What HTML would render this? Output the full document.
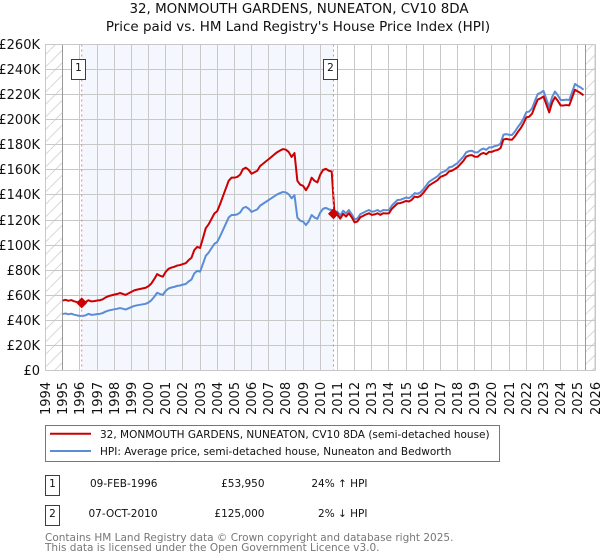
<!DOCTYPE html>
<html lang="en">
<head>
<meta charset="utf-8">
<title>32, Monmouth Gardens price chart</title>
<style>
html,body{margin:0;padding:0;background:#fff;width:600px;height:560px;overflow:hidden}
svg{display:block;font-family:"DejaVu Sans","Liberation Sans",sans-serif}
</style>
</head>
<body>
<svg id="chart" width="600" height="560" viewBox="0 0 600 560" xmlns="http://www.w3.org/2000/svg">
  <defs>
    <pattern id="hatch" patternUnits="userSpaceOnUse" width="12.5" height="12.5">
      <path d="M-1 13.5L13.5 -1" stroke="#d8d8d8" stroke-width="1" fill="none"/>
    </pattern>
  </defs>
  <rect x="0" y="0" width="600" height="560" fill="#fff"/>
  <text x="299" y="13" text-anchor="middle" font-size="13.45" fill="#111">32, MONMOUTH GARDENS, NUNEATON, CV10 8DA</text>
  <text x="298" y="31" text-anchor="middle" font-size="13.45" fill="#111">Price paid vs. HM Land Registry's House Price Index (HPI)</text>
  <g id="plot"></g>

  <g>
    <rect x="45.5" y="425.5" width="454" height="36" fill="#fff" stroke="#777" stroke-width="1"/>
    <line x1="50" y1="433.8" x2="91" y2="433.8" stroke="#cc0000" stroke-width="2"/>
    <text x="100" y="438" font-size="10.5" fill="#111">32, MONMOUTH GARDENS, NUNEATON, CV10 8DA (semi-detached house)</text>
    <line x1="50" y1="451" x2="91" y2="451" stroke="#5b8dd6" stroke-width="2"/>
    <text x="100" y="455" font-size="10.5" fill="#111">HPI: Average price, semi-detached house, Nuneaton and Bedworth</text>
  </g>

  <g font-size="10.5" fill="#111">
    <rect x="45.5" y="475.5" width="14" height="20" fill="#fff" stroke="#cc0000" stroke-width="1"/>
    <text x="52.5" y="487" text-anchor="middle">1</text>
    <text x="157.5" y="487" text-anchor="end">09-FEB-1996</text>
    <text x="264.5" y="487" text-anchor="end">£53,950</text>
    <text x="367.5" y="487" text-anchor="end">24% ↑ HPI</text>
    <rect x="45.5" y="505.5" width="14" height="20" fill="#fff" stroke="#cc0000" stroke-width="1"/>
    <text x="52.5" y="517" text-anchor="middle">2</text>
    <text x="157.5" y="517" text-anchor="end">07-OCT-2010</text>
    <text x="264.5" y="517" text-anchor="end">£125,000</text>
    <text x="367.5" y="517" text-anchor="end">2% ↓ HPI</text>
  </g>

  <text x="45" y="541" font-size="10.5" fill="#777">Contains HM Land Registry data © Crown copyright and database right 2025.</text>
  <text x="45" y="551" font-size="10.5" fill="#777">This data is licensed under the Open Government Licence v3.0.</text>
</svg>
<script>
// Values in thousands of pounds, one reading every two months from 1995.0
const seriesStartYear = 1995;
const samplesPerYear = 6;
const hpiValues = [
  45,45.5,44.8,45.3,44.5,44,
  43.6,43.5,44,45.2,44.4,44.6,
  45,45.2,45.8,47,47.8,48.3,
  48.8,49.2,49.8,49.3,48.6,49.6,
  50.6,51.5,52,52.4,52.8,53.2,
  54.3,56,58.8,62,61,60.3,
  63.5,65.4,66.2,66.7,67.5,67.8,
  68.5,69,71,72.5,77.5,79.5,
  78.8,85,91.5,94,97.5,101,
  102.5,107,112,117,122,124,
  124,124.5,126,129.5,130.5,129,
  126.5,127.5,128.5,131.5,133,134.5,
  136,137.5,139,140.5,141.5,142.4,
  142,140.5,137.3,139.8,122,119.5,
  118.8,116,119,124,122,121,
  126,129,129.7,128.5,128,127,
  126.6,123.6,127.4,125.3,128,124.7,
  120.5,121.3,124.7,125.8,127,128,
  126.6,127,128,126.6,128,127.8,
  128,131.5,133.8,136,136.2,137,
  138,137.5,139,141.5,141,142,
  144.5,147.5,150.5,152,153.5,155,
  157.5,158.5,159.5,162,162.5,164,
  165.5,168,170.5,174,175,175.3,
  174,174,176,177,176,178,
  178,179,179.5,181,188,188.5,
  188,187.8,190.5,194,197,201,
  206,206.5,209,215,220.5,221.5,
  223,216.5,210,218,222.5,219.5,
  215.7,215.7,216,215.7,222,228.5,
  227,225.7,224
];
const priceValues = [
  55.8,56.4,55.6,56.2,55.2,54.6,
  54.1,53.9,54.6,56,55.1,55.3,
  55.8,56,56.8,58.3,59.3,59.9,
  60.5,61,61.8,61.1,60.3,61.5,
  62.7,63.9,64.5,65,65.5,66,
  67.3,69.4,72.9,76.9,75.6,74.8,
  78.7,81.1,82.1,82.7,83.7,84.1,
  84.9,85.6,88,89.9,96.1,98.6,
  97.7,105.4,113.5,116.6,120.9,125.2,
  127.1,132.7,138.9,145.1,151.3,153.8,
  153.8,154.4,156.2,160.6,161.8,160,
  156.9,158.1,159.3,163.1,164.9,166.8,
  168.6,170.5,172.4,174.2,175.5,176.6,
  176.1,174.2,170.3,173.4,151.3,148.2,
  147.3,143.8,147.6,153.8,151.3,150,
  156.2,160,160.8,159.3,158.7,124.5,
  124.1,121.1,124.9,122.8,125.4,122.2,
  118.1,118.9,122.2,123.3,124.5,125.4,
  124.1,124.5,125.4,124.1,125.4,125.2,
  125.4,128.9,131.1,133.3,133.5,134.3,
  135.2,134.8,136.2,138.7,138.2,139.2,
  141.6,144.6,147.5,149,150.4,151.9,
  154.4,155.3,156.3,158.8,159.3,160.7,
  162.2,164.6,167.1,170.5,171.5,171.8,
  170.5,170.5,172.5,173.5,172.5,174.4,
  174.4,175.4,175.9,177.4,184.2,184.7,
  184.2,184,186.7,190.1,193.1,197,
  201.9,202.4,204.8,210.7,216.1,217.1,
  218.5,212.2,205.8,213.6,218,215.1,
  211.4,211.4,211.7,211.4,217.6,223.9,
  222.5,221.2,219.5
];
const saleDates = [1996.11, 2010.77];
const salePrices = [53.95, 125];
const saleLabels = ['1', '2'];
const yTickValues = [0,20,40,60,80,100,120,140,160,180,200,220,240,260];
const xTickYears = [1994,1995,1996,1997,1998,1999,2000,2001,2002,2003,2004,2005,2006,2007,2008,2009,2010,2011,2012,2013,2014,2015,2016,2017,2018,2019,2020,2021,2022,2023,2024,2025,2026];
const dataStartYear = 1995;
const dataEndYear = 2025.46;

const plotLeft = 45.5, plotRight = 595, plotTop = 44.5, plotBottom = 370.5;
const xMin = 1994, xMax = 2026, yMin = 0, yMax = 260;
function xAxis(year) { return plotLeft + (year - xMin) * (plotRight - plotLeft) / (xMax - xMin); }
function yAxis(value) { return plotBottom - (value - yMin) * (plotBottom - plotTop) / (yMax - yMin); }

const NS = 'http://www.w3.org/2000/svg';
const plot = document.getElementById('plot');
function make(tag, attrs, parent) {
  const el = document.createElementNS(NS, tag);
  for (const k in attrs) el.setAttribute(k, attrs[k]);
  (parent || plot).appendChild(el);
  return el;
}
function snap(v) { return Math.round(v - 0.5) + 0.5; }

let el;
el = make('rect', {x: xAxis(saleDates[0]), y: plotTop, width: xAxis(saleDates[1]) - xAxis(saleDates[0]), height: plotBottom - plotTop, fill: '#f4f7fe'});



el = make('rect', {x: plotLeft, y: plotTop, width: xAxis(dataStartYear) - plotLeft, height: plotBottom - plotTop, fill: 'url(#hatch)'});



el = make('rect', {x: xAxis(dataEndYear), y: plotTop, width: plotRight - xAxis(dataEndYear), height: plotBottom - plotTop, fill: 'url(#hatch)'});



yTickValues.forEach(function (v) {
  const y = snap(yAxis(v));
  const line = make('line', {x1: plotLeft, x2: plotRight, y1: y, y2: y, stroke: '#c8c8c8', 'stroke-width': 1});
  
  
  const label = make('text', {x: 40, y: y + 4.5, 'text-anchor': 'end', 'font-size': 13, fill: '#111'});
  
  
  label.textContent = v === 0 ? '£0' : '£' + v + 'K';
});

xTickYears.forEach(function (yr) {
  const x = snap(xAxis(yr));
  const line = make('line', {x1: x, x2: x, y1: plotTop, y2: plotBottom, stroke: '#c8c8c8', 'stroke-width': 1});
  
  
  const label = make('text', {x: 0, y: 0, transform: 'translate(' + (x + 4.5) + ',415) rotate(-90)', 'font-size': 13, fill: '#111'});
  
  
  label.textContent = yr;
});

el = make('line', {x1: snap(xAxis(dataStartYear)), x2: snap(xAxis(dataStartYear)), y1: plotTop, y2: plotBottom, stroke: '#999', 'stroke-width': 1});



el = make('line', {x1: snap(xAxis(dataEndYear)), x2: snap(xAxis(dataEndYear)), y1: plotTop, y2: plotBottom, stroke: '#999', 'stroke-width': 1});



function seriesPoints(values) {
  return values.map(function (v, i) {
    return xAxis(seriesStartYear + i / samplesPerYear).toFixed(2) + ',' + yAxis(v).toFixed(2);
  }).join(' ');
}

el = make('polyline', {points: seriesPoints(hpiValues), fill: 'none', stroke: '#5b8dd6', 'stroke-width': 2, 'stroke-linejoin': 'round'});



el = make('polyline', {points: seriesPoints(priceValues), fill: 'none', stroke: '#cc0000', 'stroke-width': 2, 'stroke-linejoin': 'round'});



saleDates.forEach(function (d, i) {
  const x = xAxis(d), y = yAxis(salePrices[i]);
  const rule = make('line', {x1: x, x2: x, y1: plotTop, y2: plotBottom, stroke: '#ff7a7a', 'stroke-width': 1, 'stroke-dasharray': '2 3'});
  
  
  const badge = make('rect', {x: snap(x) - 10, y: 59.5, width: 14, height: 20, fill: '#fff', stroke: '#cc0000', 'stroke-width': 1});
  
  
  const num = make('text', {x: snap(x) - 3, y: 71, 'text-anchor': 'middle', 'font-size': 10.5, fill: '#111'});
  
  
  num.textContent = saleLabels[i];
  const r = 5.5;
  const marker = make('polygon', {points: [x - r, y, x, y - r, x + r, y, x, y + r].join(' ') , fill: '#cc0000'});
  
  
});

el = make('rect', {x: plotLeft, y: plotTop, width: plotRight - plotLeft, height: plotBottom - plotTop, fill: 'none', stroke: '#c8c8c8', 'stroke-width': 1});


</script>
</body>
</html>
